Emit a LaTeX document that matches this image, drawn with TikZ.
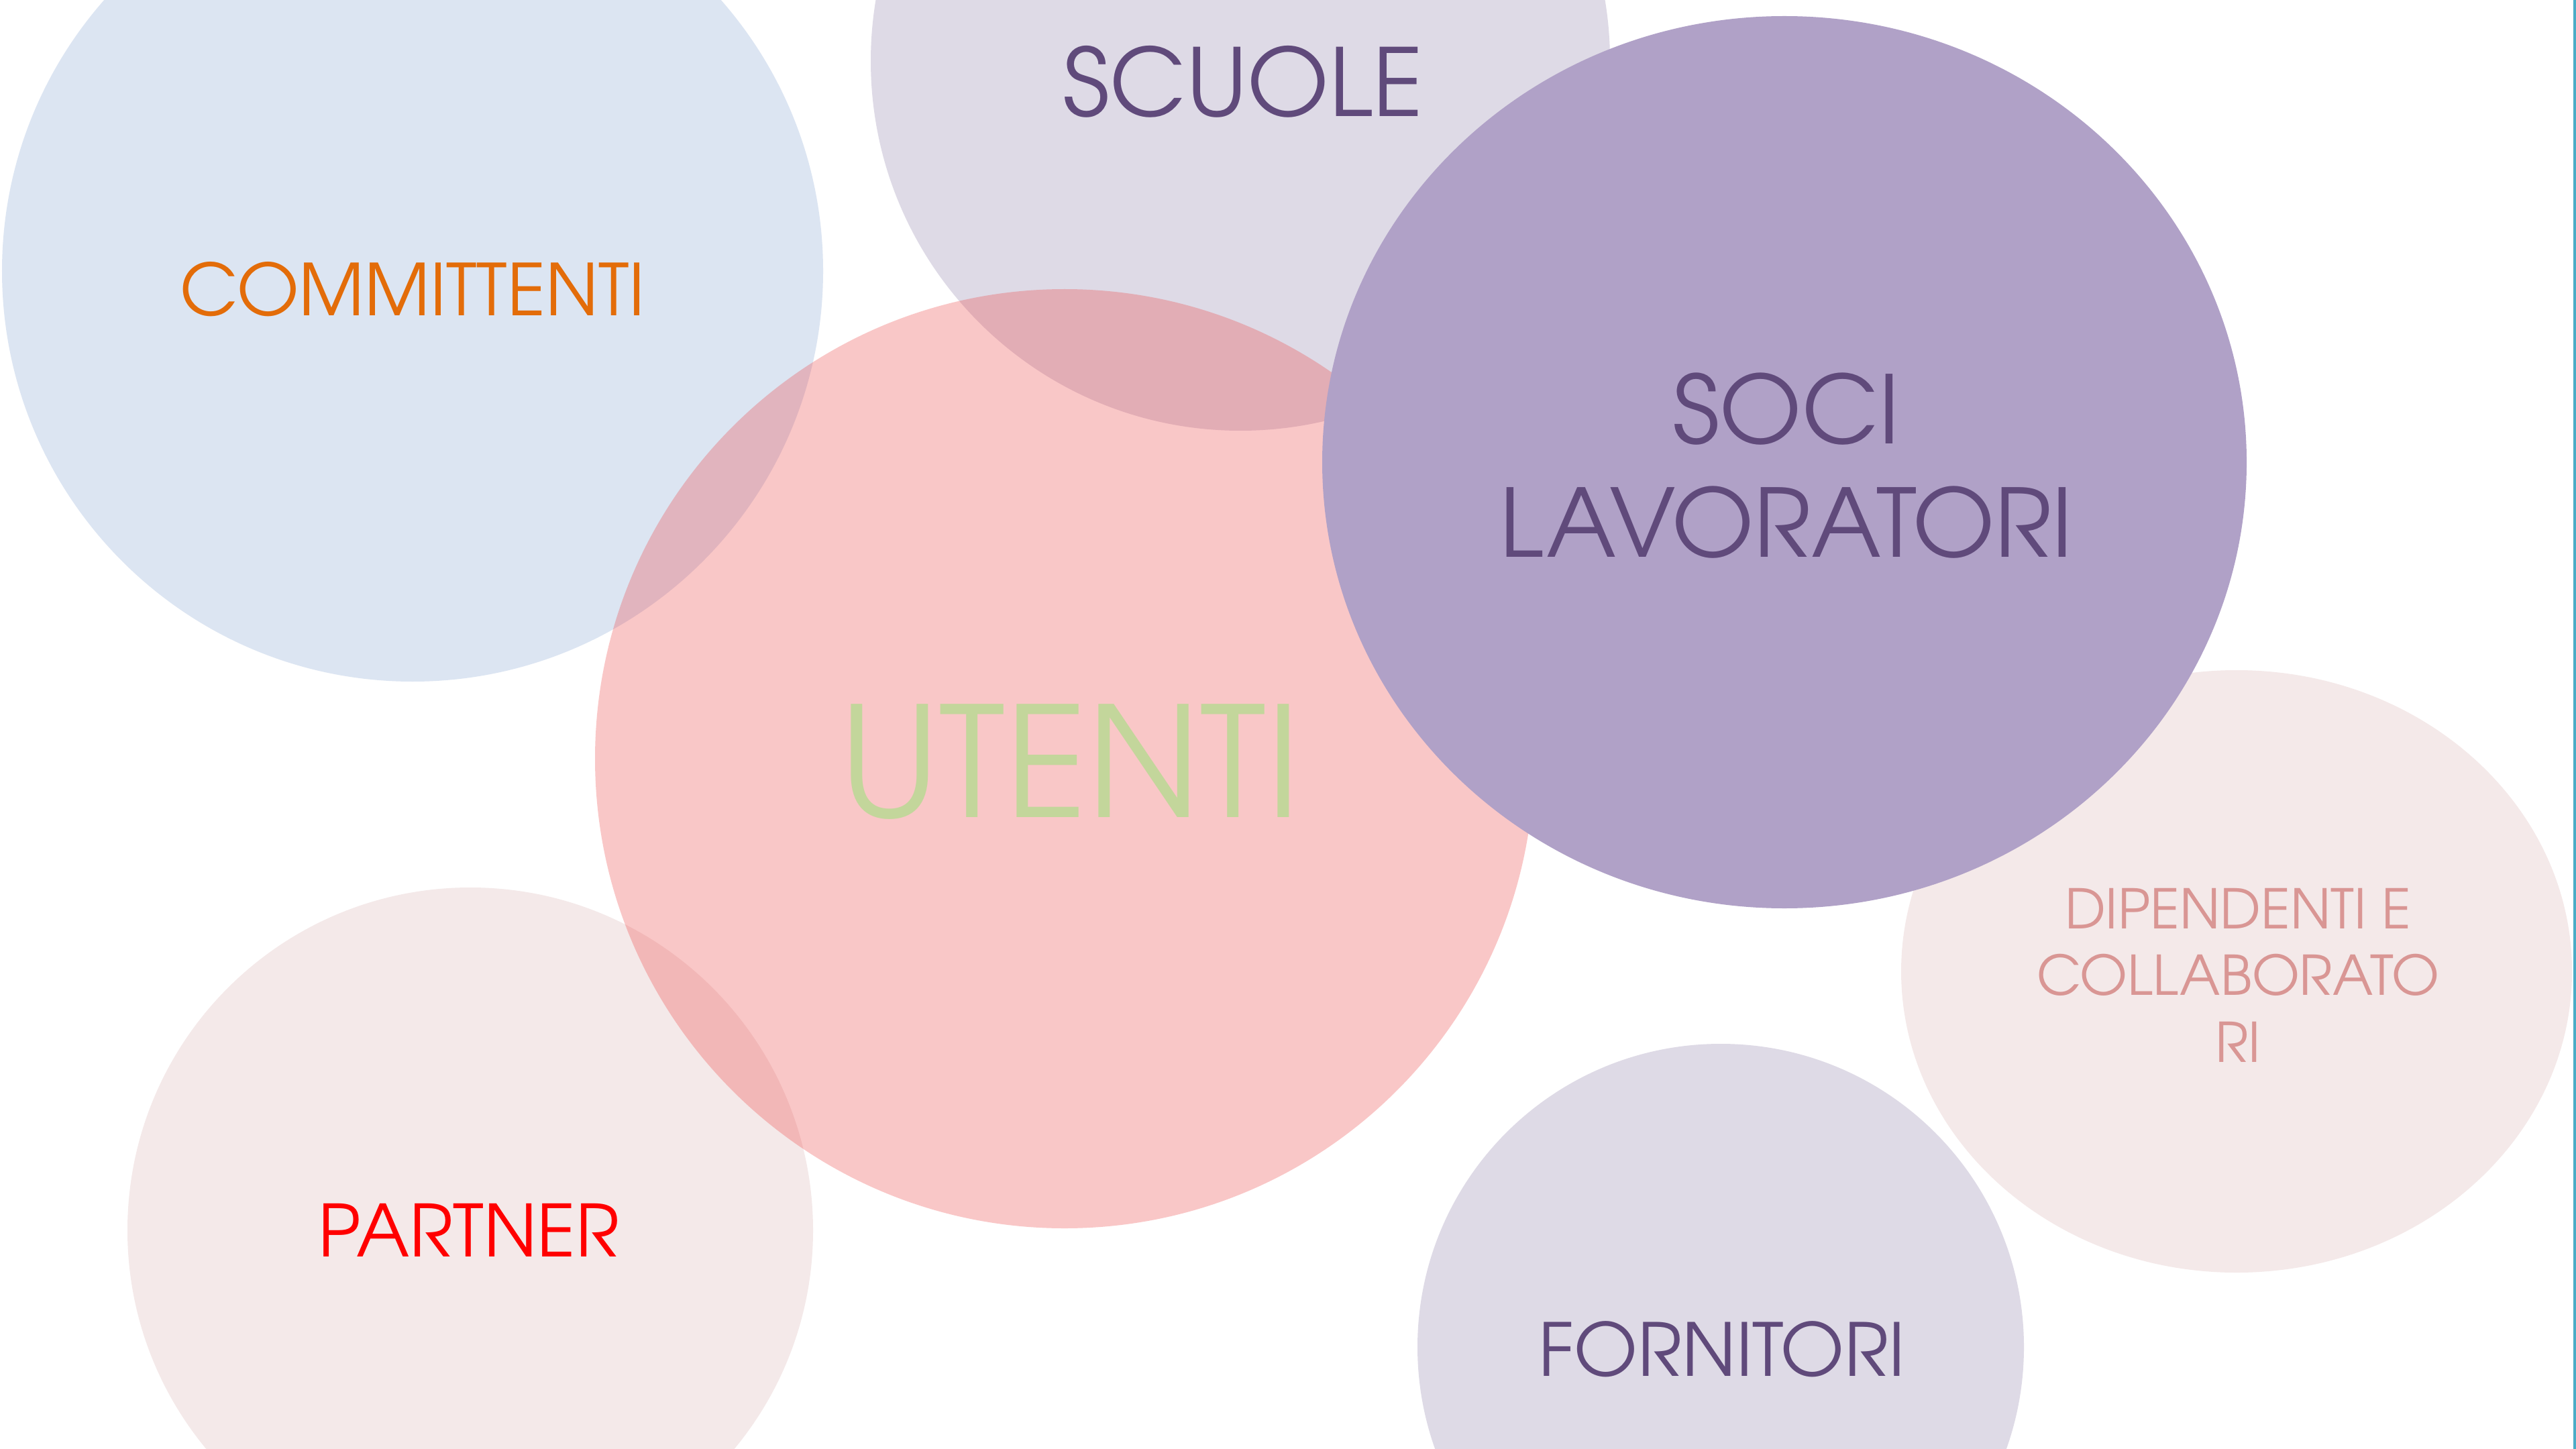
\documentclass[tikz,border=0pt]{standalone}
\usepackage{fontspec}
\setmainfont{TeX Gyre Adventor}
\definecolor{cblue}{HTML}{DCE5F2}
\definecolor{clav}{HTML}{DEDAE6}
\definecolor{cpinkbase}{RGB}{238,70,70}
\definecolor{cpale}{HTML}{F4E9E9}
\definecolor{cpurple}{HTML}{B0A1C7}
\definecolor{torange}{HTML}{E36C09}
\definecolor{tpurple}{HTML}{604A7B}
\definecolor{tgreen}{HTML}{C3D69B}
\definecolor{trose}{HTML}{D99694}
\definecolor{tred}{HTML}{FF0000}
\definecolor{cteal}{HTML}{4BACC6}
\tikzset{
  bubble/.style={draw=none},
  lbl/.style={inner sep=0pt, outer sep=0pt, align=center},
}
\begin{document}
\begin{tikzpicture}
\useasboundingbox (0,0) rectangle (38.4,-21.6);
\fill[white] (0,0) rectangle (38.4,-21.6);
\clip (0,0) rectangle (38.4,-21.6);
% bubbles
\fill[bubble, cblue] (6.15,-4.04) circle [radius=6.12];
\fill[bubble, clav] (18.49,-0.91) circle [radius=5.51];
\fill[bubble, cpale] (7.01,-18.34) circle [radius=5.11];
\fill[bubble, cpale] (33.34,-14.48) ellipse [x radius=5.00, y radius=4.49];
\fill[bubble, clav] (25.65,-20.08) circle [radius=4.52];
\fill[bubble, cpinkbase, fill opacity=0.3] (15.87,-11.31) circle [radius=7.00];
\fill[bubble, cpurple] (26.60,-6.89) ellipse [x radius=6.89, y radius=6.65];
% right edge line
\draw[cteal, line width=0.04cm] (38.38,0) -- (38.38,-21.6);
% labels
\node[lbl, text=torange, font=\fontsize{30.3}{36}\selectfont] (committenti) at (6.15,-4.31) {COMMITTENTI};
\node[lbl, text=tpurple, font=\fontsize{39.8}{47}\selectfont] (scuole) at (18.53,-1.22) {SCUOLE};
\node[lbl, text=tgreen, font=\fontsize{65}{76}\selectfont] (utenti) at (15.95,-11.36) {UTENTI};
\node[lbl, text=tpurple, font=\fontsize{40}{48.1}\selectfont] (soci) at (26.63,-6.945) {SOCI\\LAVORATORI};
\node[lbl, text=trose, font=\fontsize{23.2}{28.3}\selectfont] (dipendenti) at (33.36,-14.535) {DIPENDENTI E\\COLLABORATO\\RI};
\node[lbl, text=tpurple, font=\fontsize{31}{37}\selectfont] (fornitori) at (25.67,-20.11) {FORNITORI};
\node[lbl, text=tred, font=\fontsize{30.5}{36}\selectfont] (partner) at (6.99,-18.34) {PARTNER};
\end{tikzpicture}
\end{document}
